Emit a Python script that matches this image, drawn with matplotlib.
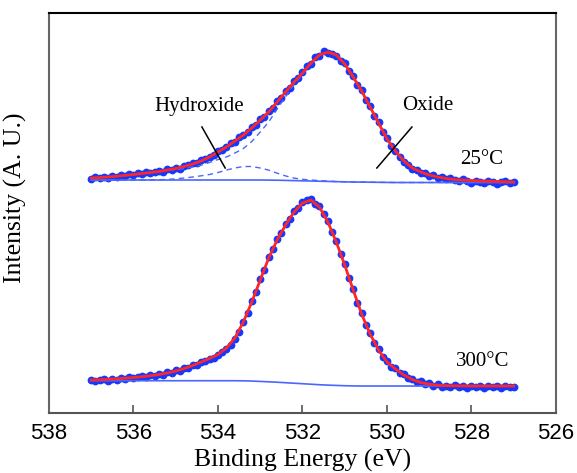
import numpy as np
import matplotlib
matplotlib.use("Agg")
import matplotlib.pyplot as plt

# binding energy grids (eV)
energy_pts = np.round(np.arange(537.0, 526.95, -0.1), 1)   # measured points
energy_fit = np.round(np.arange(537.0, 526.95, -0.2), 1)   # fit curves

# 25 C spectrum (upper trace), arbitrary units
upper_pts = [
    234, 236, 235, 236.5, 235.5, 237, 236, 238, 237, 239,
    238, 240, 239, 241, 240, 241, 242, 241, 244, 243,
    245, 244, 247, 248, 250, 250, 253, 254, 256, 258,
    262, 263, 266, 270, 271, 276, 278, 281, 286, 288,
    294, 296, 302, 305, 312, 315, 322, 325, 332, 335,
    341, 347, 349, 356, 357, 362, 360, 359, 357, 352,
    350, 342, 337, 328, 323, 313, 307, 297, 291, 281,
    275, 267, 262, 256, 251, 248, 244, 243, 240, 240,
    237, 238, 235, 236, 234, 235, 233, 232, 234, 232,
    230, 232, 231, 230, 232, 231, 229, 231, 232, 230,
    231,
]
upper_fit = [
    235, 235.5, 236, 236.8, 237.6, 238.5, 239.5, 240.5, 241.5, 243,
    244.5, 246.5, 249, 252, 256, 261, 266, 272, 278, 285,
    293, 301, 311, 321, 331, 340, 350, 358, 361, 358,
    349, 336, 322, 306, 290, 274, 262, 252, 245, 241,
    238, 236, 234.5, 233.5, 233, 232.5, 232, 231.8, 231.5, 231.3,
    231,
]
upper_base = [233] * 21 + [
    232.9, 232.8, 232.6, 232.4, 232.2, 232.0, 231.8, 231.6, 231.4, 231.2,
    231.0, 230.9, 230.8, 230.7, 230.6,
] + [230.5] * 15
# hydroxide component height above baseline
hydroxide = [0] * 8 + [
    0.3, 0.6, 1.2, 2, 3, 4.2, 5.5, 7.5, 10, 12, 13.5,
    13.5, 12, 10, 7, 4.5, 2.5, 1.5, 1, 0.6, 0.3,
] + [0] * 22

# 300 C spectrum (lower trace)
lower_pts = [
    33, 32, 33.5, 34, 32.5, 34.5, 33.5, 35, 34, 36,
    35, 36.5, 37, 36, 38, 37.5, 39.5, 38.5, 41, 40.5,
    43, 42, 45, 45.5, 48, 48.5, 51, 52, 54.5, 55,
    58, 61, 64, 68, 74, 81, 91, 100, 112, 121,
    134, 143, 156, 164, 174, 180, 189, 194, 202, 205,
    211, 213, 214, 209, 207, 199, 192, 181, 172, 159,
    149, 135, 124, 110, 100, 88, 80, 70, 64, 56,
    52, 46, 45, 40, 39, 35, 34, 31, 32, 29,
    30, 27, 29, 26, 27.5, 26, 28, 26.5, 27, 25.5,
    27.5, 26, 27, 25.5, 27, 26.5, 27.5, 25.5, 27, 26.5,
    26,
]
lower_fit = [
    33, 33.3, 33.7, 34.2, 34.8, 35.5, 36.3, 37.3, 38.5, 40,
    42, 44.5, 47.5, 51, 54.5, 58.5, 65, 75, 91, 111,
    133, 155, 173, 188, 201, 210, 213, 206, 191, 171,
    148, 123, 99, 79, 63, 51, 44, 38, 33.5, 30.5,
    28.8, 27.8, 27.4, 27.2, 27.1, 27, 27, 27, 27, 27,
    27,
]
lower_base = [32.3] * 18 + [
    32.2, 32.0, 31.6, 31.2, 30.8, 30.3, 29.8, 29.3, 28.8, 28.3,
    27.9, 27.6, 27.3, 27.1, 27.0,
] + [27.0] * 18

xticks = [538, 536, 534, 532, 530, 528, 526]

BLUE = "#1538ff"
RED = "#ff2626"
LINE_BLUE = "#4a66ff"

upper_base = np.array(upper_base)
hydroxide = np.array(hydroxide)
upper_fit = np.array(upper_fit)
oxide = upper_fit - hydroxide

fig = plt.figure(figsize=(5.77, 4.73), dpi=100)
ax = fig.add_axes([0.0849, 0.1268, 0.8787, 0.8457])

for pts, fit, base, comp in [
    (upper_pts, upper_fit, upper_base, oxide),
    (lower_pts, lower_fit, lower_base, lower_fit),
]:
    ax.plot(energy_pts, pts, "o", color=BLUE, markersize=5.6,
            markeredgewidth=0, zorder=2)
    ax.plot(energy_fit, base, "-", color=LINE_BLUE, linewidth=1.2, zorder=3)
    ax.plot(energy_fit, comp, "--", color=LINE_BLUE, linewidth=1.0,
            dashes=(4, 3), zorder=3)
    ax.plot(energy_fit, fit, "-", color=RED, linewidth=2.0, zorder=4)

ax.plot(energy_fit, upper_base + hydroxide, "--", color=LINE_BLUE,
        linewidth=1.0, dashes=(4, 3), zorder=3)

serif = ["Liberation Serif", "DejaVu Serif"]
ax.text(534.45, 307, "Hydroxide", family=serif, fontsize=15,
        ha="center", va="center")
ax.plot([534.38, 533.83], [286, 245], color="black", linewidth=1.1, zorder=5)
ax.text(529.03, 308, "Oxide", family=serif, fontsize=15,
        ha="center", va="center")
ax.plot([529.41, 530.24], [286, 245], color="black", linewidth=1.1, zorder=5)
ax.text(527.75, 254, "25°C", family=serif, fontsize=15,
        ha="center", va="center")
ax.text(527.73, 52, "300°C", family=serif, fontsize=15,
        ha="center", va="center")

ax.set_xlim(538, 526)
ax.set_ylim(0, 400)
ax.set_xticks(xticks)
ax.set_xticklabels([str(t) for t in xticks], family="Liberation Sans",
                   fontsize=16)
ax.set_yticks([])
ax.tick_params(axis="x", direction="in", length=6, width=1.2, pad=7,
               colors="#555555", labelcolor="black")

for side, col in [("left", "#666666"), ("right", "#666666"),
                  ("bottom", "#555555"), ("top", "black")]:
    ax.spines[side].set_color(col)
    ax.spines[side].set_linewidth(1.5)

ax.set_xlabel("Binding Energy (eV)", family=serif, fontsize=18.5, labelpad=4)
ax.set_ylabel("Intensity (A. U.)", family=serif, fontsize=18.5)
ax.yaxis.set_label_coords(-0.043, 0.537)

fig.savefig("out.png", dpi=100)
